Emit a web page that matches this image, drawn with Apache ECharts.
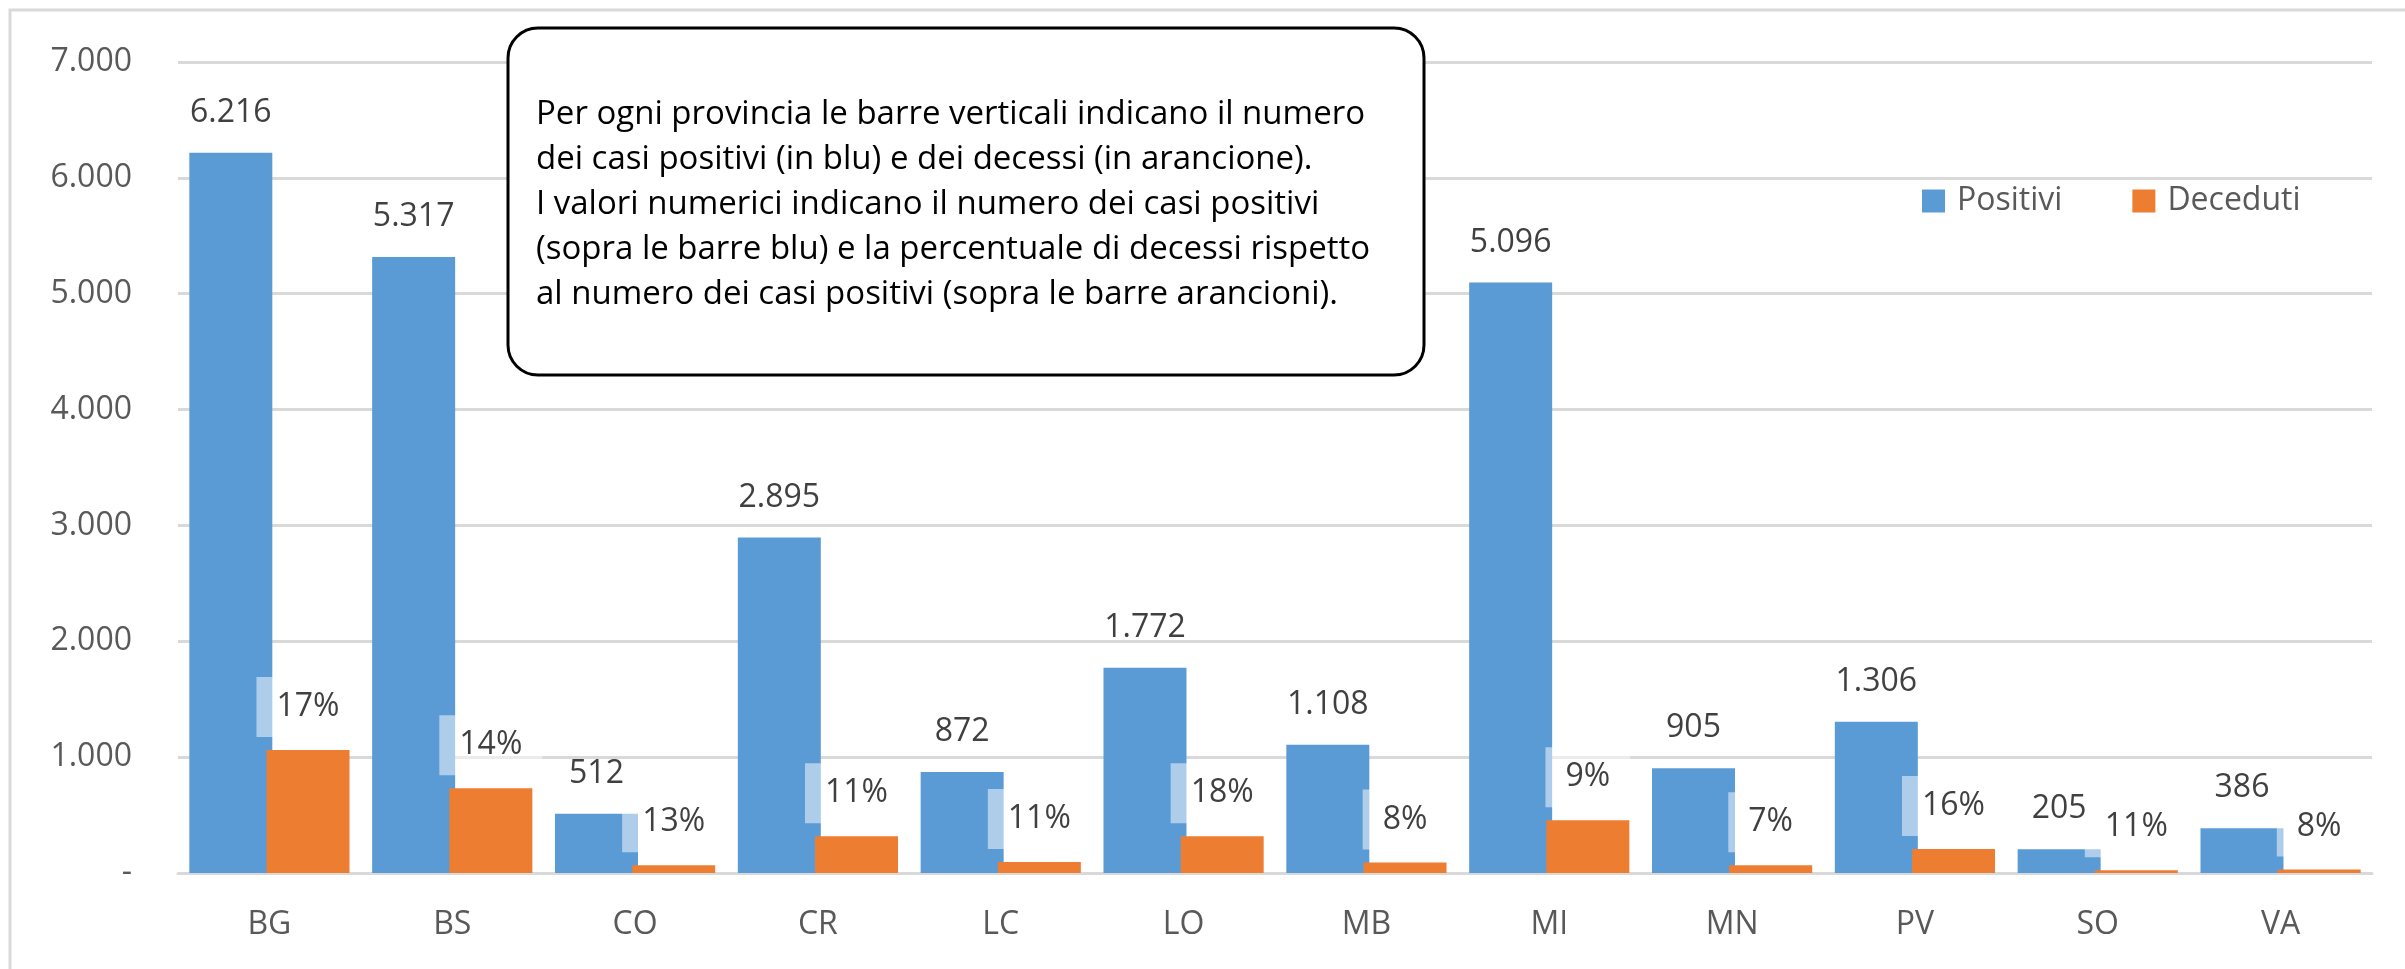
<!DOCTYPE html>
<html>
<head>
<meta charset="utf-8">
<script src="https://cdn.jsdelivr.net/npm/echarts@6/dist/echarts.min.js"></script>
<style>
  html, body { margin: 0; padding: 0; background: #fff; }
  #chart { width: 2405px; height: 969px; }
</style>
</head>
<body>
<div id="chart"></div>
<script>
const province = ['BG', 'BS', 'CO', 'CR', 'LC', 'LO', 'MB', 'MI', 'MN', 'PV', 'SO', 'VA']
const positivi = [6216, 5317, 512, 2895, 872, 1772, 1108, 5096, 905, 1306, 205, 386]
const deceduti = [1062, 731, 66, 317, 95, 317, 90, 455, 66, 207, 23, 31]
const percentuali = [17, 14, 13, 11, 11, 18, 8, 9, 7, 16, 11, 8]

const FONT = '"Open Sans", "Noto Sans", sans-serif'
const BLUE = '#5b9bd5'
const ORANGE = '#ed7d31'
const GRID = '#d9d9d9'

const note = [
  'Per ogni provincia le barre verticali indicano il numero',
  'dei casi positivi (in blu) e dei decessi (in arancione).',
  'I valori numerici indicano il numero dei casi positivi',
  '(sopra le barre blu) e la percentuale di decessi rispetto',
  'al numero dei casi positivi (sopra le barre arancioni).',
]

function thousands(v) {
  if (v === 0) return '-'
  return String(v).replace(/\B(?=(\d{3})+(?!\d))/g, '.')
}

const chart = echarts.init(document.getElementById('chart'))
chart.setOption({
  animation: false,
  textStyle: { fontFamily: FONT },
  grid: { left: 178, right: 33, top: 62, bottom: 96 },
  legend: {
    left: 1917,
    top: 180,
    icon: 'rect',
    itemWidth: 23,
    itemHeight: 23,
    itemGap: 70,
    textStyle: { fontSize: 32, color: '#595959', fontFamily: FONT, padding: [0, 0, 0, 7] },
    data: ['Positivi', 'Deceduti'],
  },
  xAxis: {
    type: 'category',
    data: province,
    axisLine: { lineStyle: { color: GRID, width: 3 } },
    axisTick: { show: false },
    axisLabel: { fontSize: 32, color: '#595959', margin: 36 },
  },
  yAxis: {
    type: 'value',
    min: 0,
    max: 7000,
    interval: 1000,
    axisLine: { show: false },
    axisTick: { show: false },
    splitLine: { lineStyle: { color: GRID, width: 3 } },
    axisLabel: { fontSize: 32, color: '#595959', margin: 46, formatter: thousands },
  },
  series: [
    {
      name: 'Positivi',
      type: 'bar',
      data: positivi,
      barWidth: 83,
      barGap: '-7%',
      itemStyle: { color: BLUE },
      label: {
        show: true,
        position: 'top',
        distance: 24,
        fontSize: 32,
        lineHeight: 32,
        color: '#404040',
        formatter: p => thousands(p.value),
      },
    },
    {
      name: 'Deceduti',
      type: 'bar',
      data: deceduti,
      barWidth: 83,
      itemStyle: { color: ORANGE },
      label: {
        show: true,
        position: 'top',
        distance: 13,
        fontSize: 32,
        lineHeight: 32,
        color: '#404040',
        backgroundColor: 'rgba(255,255,255,0.5)',
        padding: [14, 20],
        formatter: p => percentuali[p.dataIndex] + '%',
      },
    },
  ],
  graphic: [
    {
      type: 'rect',
      z: -10,
      silent: true,
      shape: { x: 10, y: 10, width: 2500, height: 1000 },
      style: { fill: 'none', stroke: GRID, lineWidth: 3 },
    },
    // riquadro con la nota esplicativa
    {
      type: 'rect',
      z: 100,
      shape: { x: 508, y: 28, width: 916, height: 347, r: 30 },
      style: { fill: '#fff', stroke: '#000', lineWidth: 3 },
    },
    {
      type: 'text',
      z: 101,
      x: 536,
      y: 92,
      style: {
        text: note.join('\n'),
        fontSize: 33,
        lineHeight: 45,
        fill: '#000',
        fontFamily: FONT,
      },
    },
  ],
})
</script>
</body>
</html>
